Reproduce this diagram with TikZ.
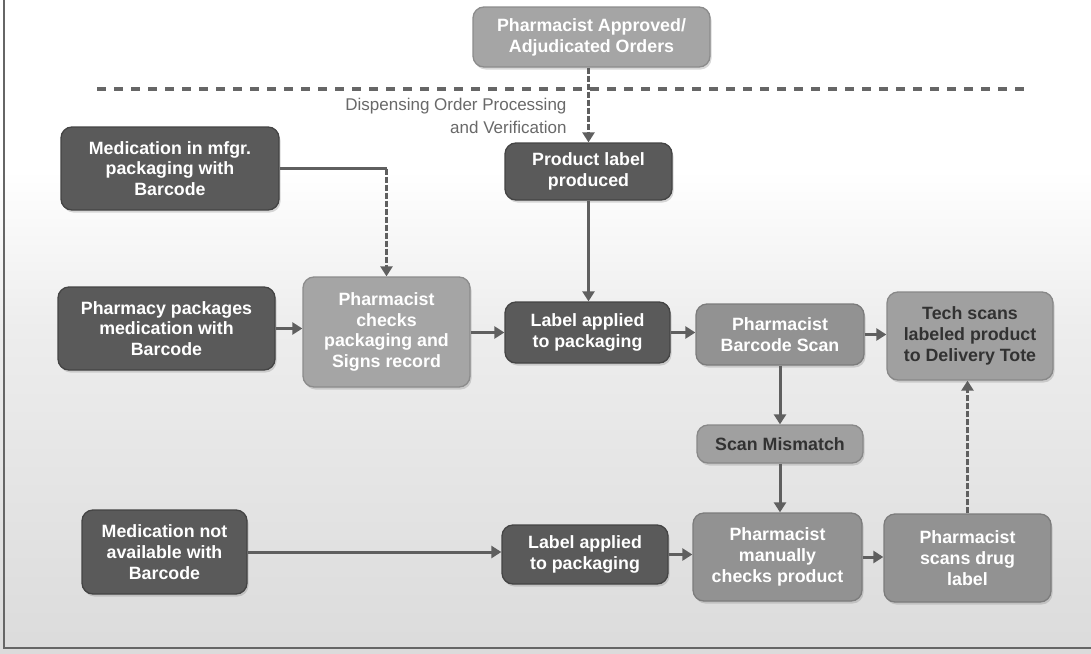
\documentclass[tikz,border=0pt]{standalone}
\usepackage{fontspec}
\setmainfont{Liberation Sans}
\usetikzlibrary{arrows.meta,shadows}
\definecolor{darkbox}{RGB}{90,90,90}
\definecolor{darkedge}{RGB}{68,68,68}
\definecolor{midbox}{RGB}{146,146,146}
\definecolor{lightbox}{RGB}{165,165,165}
\definecolor{palebox}{RGB}{160,160,160}
\definecolor{arrowc}{RGB}{95,95,95}
\definecolor{darktext}{RGB}{50,50,50}
\definecolor{labeltext}{RGB}{105,105,105}
\pgfdeclareverticalshading{bgshade}{100bp}{color(0bp)=(black!18); color(25bp)=(black!14); color(50bp)=(black!7); color(62bp)=(white); color(100bp)=(white)}
\tikzset{
  box/.style={rounded corners=11pt, line width=1.3pt, align=center, inner sep=0pt,
    text=white, font=\bfseries\fontsize{17.8}{20.8}\selectfont,
    drop shadow={shadow xshift=1.5pt, shadow yshift=-2.5pt, opacity=0.3}},
  darkb/.style={box, fill=darkbox, draw=darkedge},
  midb/.style={box, fill=midbox, draw=midbox!85!black},
  lightb/.style={box, fill=lightbox, draw=lightbox!85!black},
  paleb/.style={box, fill=palebox, draw=palebox!85!black, text=darktext},
  sz/.style 2 args={minimum width=#1pt, minimum height=#2pt},
  arr/.style={draw=arrowc, line width=3pt, -{Triangle[length=10pt,width=12pt]}},
  darr/.style={arr, dash pattern=on 6pt off 2pt},
  sepline/.style={draw=black!60, line width=3.5pt, dash pattern=on 9pt off 8pt}
}
\begin{document}
\begin{tikzpicture}[x=1pt,y=-1pt]
% background and frame
\path[shading=bgshade] (0,0) rectangle (1091,653);
\useasboundingbox (0,0) rectangle (1091,653);
\draw[black!60, line width=1.5pt] (4,0) -- (4,648) -- (1091,648);
% separator
\draw[sepline] (97,89) -- (1030,89);
\node[anchor=east, align=right, text=labeltext, font=\fontsize{17}{23}\selectfont] (lbl) at (570,116) {Dispensing Order Processing\\and Verification};
% nodes
\node[lightb, sz={237}{60}] (top) at (591.5,37) {Pharmacist Approved/\\Adjudicated Orders};
\node[darkb, sz={167}{57}] (prod) at (588.5,171.5) {Product label\\produced};
\node[darkb, sz={218}{83}] (mfgr) at (170,168.5) {Medication in mfgr.\\packaging with\\Barcode};
\node[darkb, sz={217}{83}] (pkg) at (166.5,328.5) {Pharmacy packages\\medication with\\Barcode};
\node[lightb, sz={167}{110}] (chk) at (386.5,332) {Pharmacist\\checks\\packaging and\\Signs record};
\node[darkb, sz={165}{61}] (lab1) at (587.5,332.5) {Label applied\\to packaging};
\node[midb, sz={168}{61}] (scan) at (780,334.5) {Pharmacist\\Barcode Scan};
\node[paleb, sz={166}{88}] (tech) at (970,336) {Tech scans\\labeled product\\to Delivery Tote};
\node[paleb, sz={166}{38}] (mis) at (780,444) {Scan Mismatch};
\node[darkb, sz={165}{84}] (na) at (164.5,552) {Medication not\\available with\\Barcode};
\node[darkb, sz={166}{59}] (lab2) at (585,554.5) {Label applied\\to packaging};
\node[midb, sz={169}{88}] (man) at (777.5,557) {Pharmacist\\manually\\checks product};
\node[midb, sz={167}{88}] (drug) at (967.5,558) {Pharmacist\\scans drug\\label};
% connectors
\draw[darr] (prod.north |- top.south) -- (prod.north);
\draw[arr] (prod.south) -- (prod.south |- lab1.north);
\coordinate (elb) at (chk.north |- mfgr.east);
\draw[draw=arrowc, line width=3pt] (mfgr.east) -- (elb);
\draw[darr] (elb) -- (chk.north);
\draw[arr] (pkg.east) -- (pkg.east -| chk.west);
\draw[arr] (chk.east |- lab1.west) -- (lab1.west);
\draw[arr] (lab1.east) -- (lab1.east -| scan.west);
\draw[arr] (scan.east) -- (scan.east -| tech.west);
\draw[arr] (scan.south) -- (mis.north);
\draw[arr] (mis.south) -- (mis.south |- man.north);
\draw[arr] (na.east) -- (na.east -| lab2.west);
\draw[arr] (lab2.east) -- (lab2.east -| man.west);
\draw[arr] (man.east) -- (man.east -| drug.west);
\draw[darr] (drug.north) -- (drug.north |- tech.south);
\end{tikzpicture}
\end{document}
